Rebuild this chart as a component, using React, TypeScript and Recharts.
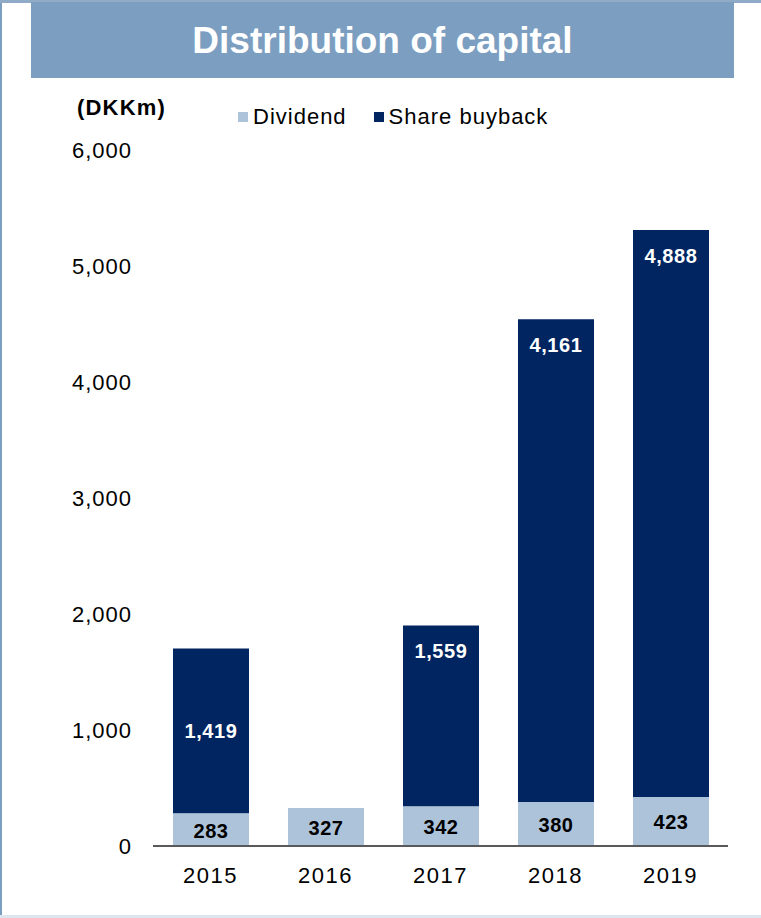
import React from 'react';
import { BarChart, Bar, XAxis, YAxis, Legend, LabelList } from 'recharts';

const years = ['2015', '2016', '2017', '2018', '2019'];
const dividend = [283, 327, 342, 380, 423];
const buyback: (number | null)[] = [1419, null, 1559, 4161, 4888];
const yTicks = [0, 1000, 2000, 3000, 4000, 5000, 6000];
const seriesNames = { dividend: 'Dividend', buyback: 'Share buyback' };

const data = years.map((y, i) => ({ year: y, dividend: dividend[i], buyback: buyback[i] }));

const FONT = '"Liberation Sans", Arial, Helvetica, sans-serif';
const LIGHT = '#adc3d9';
const NAVY = '#002561';
const BANNER = '#7b9ec1';

const fmt = (v: number) => v.toLocaleString('en-US');

const DividendLabel = (props: any) => {
  const { x, y, width, height, value } = props;
  if (value == null) return null;
  return (
    <text x={x + width / 2} y={y + height / 2 + 1} textAnchor="middle" dominantBaseline="central"
      fill="#000" fontFamily={FONT} fontWeight="bold" fontSize={20} letterSpacing={0.6}>{fmt(value)}</text>
  );
};

const BuybackLabel = (props: any) => {
  const { x, y, width, height, value, index } = props;
  if (value == null) return null;
  const cy = index === 0 ? y + height / 2 : y + 26;
  return (
    <text x={x + width / 2} y={cy} textAnchor="middle" dominantBaseline="central"
      fill="#fff" fontFamily={FONT} fontWeight="bold" fontSize={20} letterSpacing={0.6}>{fmt(value)}</text>
  );
};

const LegendContent = (props: any) => {
  const items = props.payload || [];
  return (
    <div style={{ display: 'flex', alignItems: 'center', fontFamily: FONT, fontSize: 22, lineHeight: '22px', color: '#000', letterSpacing: 1 }}>
      {items.map((it: any, i: number) => (
        <div key={i} style={{ display: 'flex', alignItems: 'center', marginRight: 27 }}>
          <div style={{ width: 10, height: 10, background: it.color, marginRight: 5 }} />
          <span>{it.value}</span>
        </div>
      ))}
    </div>
  );
};

export default function App() {
  return (
    <div style={{ position: 'absolute', left: 0, top: 0, width: 761, height: 918, background: '#fff', overflow: 'hidden', fontFamily: FONT }}>
      <div style={{ position: 'absolute', left: 0, top: 0, width: 2, height: 918, background: BANNER }} />
      <div style={{ position: 'absolute', left: 0, top: 0, width: 761, height: 3, background: '#8fabc8' }} />
      <div style={{ position: 'absolute', left: 0, top: 915, width: 761, height: 3, background: '#dde5ee' }} />
      <div style={{ position: 'absolute', left: 31, top: 2, width: 703, height: 76, background: BANNER }} />
      <div style={{ position: 'absolute', left: 31, top: 23, width: 703, textAlign: 'center', color: '#fff', fontWeight: 'bold', fontSize: 37, lineHeight: '36px' }}>
        Distribution of capital
      </div>
      <div style={{ position: 'absolute', left: 77, top: 97, fontWeight: 'bold', fontSize: 22, lineHeight: '22px', color: '#000', letterSpacing: 1.2 }}>
        (DKKm)
      </div>
      <div style={{ position: 'absolute', left: 0, top: 0 }}>
        <BarChart width={761} height={918} data={data} margin={{ top: 150, right: 33, bottom: 42, left: 0 }}>
          <XAxis dataKey="year" axisLine={{ stroke: '#595959', strokeWidth: 2 }} tickLine={false} tickSize={0} tickMargin={21} height={30}
            tick={{ fill: '#000', fontSize: 22, fontFamily: FONT, letterSpacing: 1.5 } as any} />
          <YAxis domain={[0, 6000]} ticks={yTicks} width={153} axisLine={false} tickLine={false} tickSize={0} tickMargin={21}
            tickFormatter={fmt} tick={{ fill: '#000', fontSize: 22, fontFamily: FONT, letterSpacing: 1 } as any} />
          <Legend layout="horizontal" verticalAlign="middle" align="center" content={<LegendContent />}
            wrapperStyle={{ position: 'absolute', left: 238, top: 106, width: 'auto' }} />
          <Bar dataKey="dividend" name={seriesNames.dividend} stackId="a" fill={LIGHT} barSize={76} isAnimationActive={false}>
            <LabelList dataKey="dividend" content={<DividendLabel />} />
          </Bar>
          <Bar dataKey="buyback" name={seriesNames.buyback} stackId="a" fill={NAVY} barSize={76} isAnimationActive={false}>
            <LabelList dataKey="buyback" content={<BuybackLabel />} />
          </Bar>
        </BarChart>
      </div>
    </div>
  );
}
